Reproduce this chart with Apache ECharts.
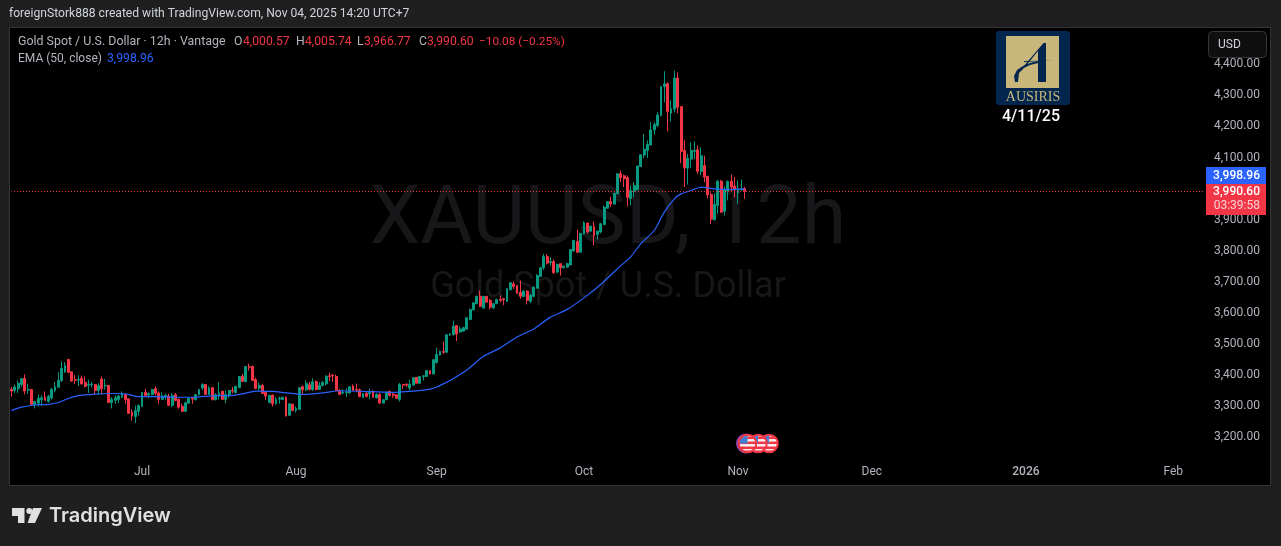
<!DOCTYPE html>
<html>
<head>
<meta charset="utf-8">
<style>html,body{margin:0;padding:0;background:#1f1f1f}#c{width:1281px;height:546px}</style>
<script src="https://cdn.jsdelivr.net/npm/echarts@6/dist/echarts.min.js"></script>
</head>
<body>
<div id="c"></div>
<script>
const opens = [
3353,3350,3355,3369,3388,3351,3353,3305,3309,3320,3328,3315,3326,3350,3360,3382,3409,3450,3410,3385,
3383,3389,3376,3367,3368,3369,3350,3387,3364,3366,3311,3318,3321,3328,3337,3323,3280,3266,3283,3298,
3344,3335,3336,3356,3342,3321,3330,3332,3302,3336,3321,3299,3283,3309,3326,3320,3336,3358,3369,3337,
3359,3320,3332,3347,3321,3334,3350,3343,3359,3395,3378,3427,3427,3385,3357,3366,3344,3311,3335,3307,
3322,3321,3328,3270,3306,3286,3289,3362,3352,3368,3353,3379,3353,3366,3371,3397,3399,3395,3349,3341,
3343,3342,3364,3353,3352,3327,3341,3339,3348,3326,3337,3309,3320,3347,3338,3336,3321,3369,3370,3358,
3367,3392,3373,3395,3395,3413,3403,3440,3464,3476,3473,3529,3530,3559,3538,3541,3547,3578,3609,3629,
3653,3615,3653,3640,3616,3629,3643,3645,3637,3674,3693,3688,3666,3653,3670,3637,3653,3679,3717,3745,
3781,3762,3765,3731,3758,3745,3747,3754,3799,3830,3795,3854,3889,3863,3878,3852,3860,3884,3937,3958,
3950,3983,4048,4041,4035,3968,3991,3996,4071,4108,4123,4140,4189,4203,4235,4329,4338,4243,4256,4356,
4264,4123,4066,4095,4120,4125,4055,4074,4039,3981,3900,3946,4024,3927,3992,4024,4008,3986,3997,4000.57];
const closes = [
3348,3361,3373,3388,3348,3353,3305,3314,3325,3326,3318,3330,3353,3362,3382,3421,3430,3408,3380,3383,
3385,3371,3363,3370,3370,3350,3365,3355,3366,3311,3321,3326,3332,3339,3321,3276,3268,3285,3301,3344,
3334,3340,3353,3341,3321,3332,3334,3302,3334,3318,3296,3283,3310,3325,3322,3336,3353,3369,3337,3358,
3320,3336,3342,3321,3337,3350,3348,3363,3395,3379,3427,3425,3382,3356,3366,3340,3332,3334,3307,3321,
3325,3328,3268,3307,3285,3292,3359,3352,3373,3353,3378,3353,3366,3376,3396,3395,3397,3349,3337,3344,
3345,3362,3350,3351,3330,3340,3330,3343,3328,3337,3309,3320,3345,3334,3334,3325,3369,3367,3367,3370,
3391,3373,3395,3397,3414,3403,3449,3466,3476,3473,3529,3532,3556,3532,3548,3552,3584,3611,3632,3653,
3621,3653,3634,3618,3629,3643,3640,3642,3678,3697,3685,3663,3653,3670,3640,3656,3683,3720,3745,3781,
3760,3765,3729,3756,3745,3750,3758,3804,3833,3795,3856,3890,3860,3879,3849,3863,3887,3940,3958,3950,
3985,4048,4035,4032,3972,3994,4009,4073,4109,4127,4142,4189,4206,4237,4329,4337,4248,4257,4356,4262,
4120,4066,4098,4123,4123,4056,4106,4037,3980,3901,3949,4024,3924,3996,4023,4005,3996,3996,3999,3990.6];
const lows = [
3330,3342,3342,3361,3337,3339,3305,3292,3298,3300,3318,3311,3320,3344,3360,3377,3407,3408,3378,3371,
3364,3369,3360,3342,3360,3337,3336,3337,3352,3311,3292,3307,3309,3326,3307,3276,3253,3245,3269,3298,
3328,3325,3334,3334,3307,3321,3320,3299,3296,3315,3291,3280,3280,3307,3307,3318,3334,3352,3337,3337,
3318,3318,3320,3320,3309,3326,3341,3341,3359,3377,3378,3414,3382,3354,3350,3339,3320,3309,3298,3305,
3307,3318,3266,3270,3285,3279,3289,3339,3348,3350,3348,3350,3352,3363,3366,3380,3377,3348,3336,3339,
3328,3340,3348,3344,3328,3327,3328,3322,3326,3324,3307,3309,3320,3330,3326,3323,3314,3355,3361,3350,
3367,3373,3373,3382,3393,3401,3403,3436,3462,3468,3471,3525,3527,3509,3536,3539,3547,3578,3609,3629,
3618,3615,3634,3611,3612,3629,3634,3624,3635,3674,3677,3663,3645,3650,3627,3631,3650,3679,3715,3738,
3756,3752,3726,3729,3720,3743,3745,3754,3799,3792,3795,3852,3856,3861,3817,3836,3856,3884,3935,3940,
3950,3983,4021,4005,3942,3946,3972,3996,4071,4098,4098,4140,4174,4198,4235,4278,4185,4216,4246,4243,
4082,4005,4013,4067,4096,4048,4044,4021,3969,3886,3897,3919,3922,3913,3962,3992,3972,3951,3992,3966.77];
const highs = [
3361,3369,3382,3388,3402,3371,3353,3314,3336,3334,3347,3336,3358,3377,3409,3443,3441,3450,3410,3400,
3399,3398,3395,3384,3377,3369,3373,3395,3387,3366,3328,3334,3334,3347,3339,3323,3289,3301,3305,3344,
3355,3344,3355,3363,3347,3344,3339,3339,3341,3342,3324,3307,3314,3326,3328,3339,3353,3373,3371,3364,
3359,3341,3376,3350,3350,3352,3361,3365,3395,3403,3427,3436,3430,3391,3376,3371,3348,3336,3336,3328,
3330,3330,3330,3307,3306,3298,3359,3366,3382,3377,3389,3382,3377,3380,3398,3407,3403,3401,3355,3354,
3358,3362,3369,3372,3356,3340,3344,3356,3350,3341,3341,3320,3345,3350,3345,3337,3374,3371,3373,3384,
3391,3392,3395,3398,3414,3414,3449,3487,3478,3508,3532,3535,3575,3559,3556,3555,3584,3613,3634,3655,
3672,3653,3655,3645,3632,3645,3656,3648,3678,3697,3701,3688,3704,3672,3672,3661,3683,3725,3747,3790,
3788,3779,3772,3758,3760,3752,3762,3804,3835,3868,3856,3895,3890,3881,3894,3865,3889,3945,3958,3974,
3985,4048,4058,4045,4042,4010,4021,4073,4109,4176,4155,4214,4214,4246,4329,4378,4341,4284,4380,4374,
4264,4157,4112,4149,4152,4139,4133,4106,4042,3988,3985,4028,4028,4007,4026,4045,4037,4026,4029,4005.74];

// EMA (50, close) at these bar numbers
const emaBars = [0,3,7,11,14,17,20,25,29,34,38,43,49,55,61,65,69,73,78,82,87,93,98,105,113,120,125,127,129,131,136,141,146,151,156,161,166,171,176,181,185,188,192,195,198,200,203,206,210,215,219];
const emaValues = [3285,3296,3303,3305,3311,3324,3333,3338,3340,3339,3330,3330,3328,3328,3333,3333,3339,3348,3347,3342,3337,3342,3349,3347,3344,3348,3354,3361,3371,3382,3416,3460,3487,3522,3548,3586,3611,3648,3691,3742,3781,3823,3865,3924,3967,3983,3994,4005,3999,3997,3998.96];

const priceTicks = [3200,3300,3400,3500,3600,3700,3800,3900,4000,4100,4200,4300,4400];
const monthNames = ['Jul','Aug','Sep','Oct','Nov','Dec','2026','Feb'];
const monthBars = [39,85,127,171,217,257,303,347];
const slotCount = 357;
const lastClose = 3990.6;

const slots = Array.from({length: slotCount}, (_, i) => {
  const k = monthBars.indexOf(i);
  return k >= 0 ? monthNames[k] : '';
});
const candles = opens.map((o, i) => [o, closes[i], lows[i], highs[i]]);
const ema = emaBars.map((b, i) => [b, emaValues[i]]);

const UI = 'Roboto, sans-serif';
const green = '#089981', red = '#f23645', blue = '#2962ff', gray = '#b2b5be';

function flag(x, y, z) {
  const svg = "<svg xmlns='http://www.w3.org/2000/svg' width='20' height='20'><defs><clipPath id='c'><circle cx='10' cy='10' r='8.6'/></clipPath></defs><g clip-path='url(#c)'><rect width='20' height='20' fill='#f7f7f7'/><rect y='3' width='20' height='2.6' fill='#f23645'/><rect y='8' width='20' height='2.6' fill='#f23645'/><rect y='13' width='20' height='2.6' fill='#f23645'/><rect y='17' width='20' height='3' fill='#f23645'/><rect width='10' height='10' fill='#3f7fd6'/></g><circle cx='10' cy='10' r='8.8' fill='none' stroke='#f23645' stroke-width='2'/></svg>";
  return {type: 'image', z, style: {image: 'data:image/svg+xml,' + encodeURIComponent(svg), x: x - 10, y: y - 10, width: 20, height: 20}};
}
function poly(points, fill, z) {
  return {type: 'polygon', z, shape: {points}, style: {fill}};
}
function txt(text, x, y, font, fill, extra) {
  return {type: 'text', z: 50, style: Object.assign({text, x, y, verticalAlign: 'middle', font, fill}, extra || {})};
}

const chart = echarts.init(document.getElementById('c'), null, {renderer: 'canvas'});
chart.setOption({
  animation: false,
  backgroundColor: '#1f1f1f',
  grid: {left: 9.8, right: 76, top: 28.5, height: 431, containLabel: false},
  xAxis: {
    type: 'category', data: slots, boundaryGap: true,
    axisLine: {show: false}, axisTick: {show: false}, splitLine: {show: false},
    axisLabel: {
      interval: i => monthBars.includes(i),
      color: gray, fontFamily: UI, fontSize: 12, margin: 6,
      formatter: v => v === '2026' ? '{y|2026}' : v,
      rich: {y: {color: gray, fontFamily: UI, fontSize: 12, fontWeight: 500}}
    }
  },
  yAxis: {
    type: 'value', position: 'right', min: 3127.5, max: 4515.6, scale: true,
    axisLine: {show: false}, axisTick: {show: false}, splitLine: {show: false},
    axisLabel: {
      customValues: priceTicks, color: gray, fontFamily: UI, fontSize: 12, margin: 9,
      formatter: v => v.toLocaleString('en-US', {minimumFractionDigits: 2, maximumFractionDigits: 2})
    }
  },
  series: [
    {
      type: 'candlestick', data: candles, barWidth: 2.4,
      itemStyle: {color: green, color0: red, borderColor: green, borderColor0: red, borderWidth: 1}
    },
    {
      type: 'line', data: ema, showSymbol: false, symbol: 'none', smooth: 0.2,
      lineStyle: {color: blue, width: 1.2}, z: 3
    },
    {
      type: 'line', data: [[0, lastClose], [slotCount - 1, lastClose]], showSymbol: false, symbol: 'none',
      lineStyle: {color: red, type: [1, 2], dashOffset: 0.474, width: 1}, z: 4, silent: true
    }
  ],
  graphic: [
    {type: 'rect', z: -10, shape: {x: 9.5, y: 27.5, width: 1261, height: 458}, style: {fill: '#000', stroke: '#343434', lineWidth: 1}},
    {type: 'text', z: -9, style: {text: 'XAUUSD, 12h', x: 608, y: 222.5, align: 'center', verticalAlign: 'middle', font: '81px ' + UI, fill: '#17171a'}},
    {type: 'text', z: -9, style: {text: 'Gold Spot / U.S. Dollar', x: 608, y: 288, align: 'center', verticalAlign: 'middle', font: '36px ' + UI, fill: '#17171a'}},

    txt('foreignStork888 created with TradingView.com, Nov 04, 2025 14:20 UTC+7', 9, 14, '12.12px ' + UI, '#d1d4dc'),
    txt('Gold Spot / U.S. Dollar · 12h · Vantage', 18, 42, '12.4px ' + UI, gray),
    txt('O', 234, 42, '12.2px ' + UI, gray), txt('4,000.57', 243, 42, '12.2px ' + UI, red),
    txt('H', 296, 42, '12.2px ' + UI, gray), txt('4,005.74', 305, 42, '12.2px ' + UI, red),
    txt('L', 357, 42, '12.2px ' + UI, gray), txt('3,966.77', 364, 42, '12.2px ' + UI, red),
    txt('C', 419, 42, '12.2px ' + UI, gray), txt('3,990.60', 427, 42, '12.2px ' + UI, red),
    txt('−10.08 (−0.25%)', 479, 42, '11.8px ' + UI, red),
    txt('EMA (50, close)', 18, 59, '12px ' + UI, gray),
    txt('3,998.96', 107, 59, '12.2px ' + UI, blue),

    // logo
    {type: 'rect', z: 50, shape: {x: 996, y: 31, width: 74, height: 74, r: 3}, style: {fill: '#03264f'}},
    {type: 'rect', z: 51, shape: {x: 1006, y: 36, width: 53, height: 52}, style: {fill: '#c8b67b'}},
    poly([[1038,82],[1046,82],[1046,43],[1043.5,43],[1023,67],[1025,67],[1038,51]], '#03264f', 52),
    poly([[1015,82],[1014,76],[1017,70],[1023,66],[1030,63],[1038,61],[1038,63],[1030,65],[1024,68],[1019,73],[1018,82]], '#03264f', 52),
    poly([[1024,61],[1053,60.5],[1024,62]], '#03264f', 52),
    {type: 'text', z: 52, style: {text: 'AUSIRIS', x: 1033, y: 97, align: 'center', verticalAlign: 'middle', font: '14px "Liberation Serif", serif', fill: '#c8b67b'}},
    txt('4/11/25', 1031, 117, '500 16px ' + UI, '#fff', {align: 'center'}),

    // currency button
    {type: 'rect', z: 50, shape: {x: 1208.5, y: 31.5, width: 58, height: 26, r: 4}, style: {fill: '#0f0f0f', stroke: '#363636', lineWidth: 1}},
    {type: 'text', z: 51, style: {text: 'USD', x: 1218, y: 44.5, verticalAlign: 'middle', font: '12px ' + UI, fill: '#d1d4dc'}},

    // price tags
    {type: 'rect', z: 50, shape: {x: 1206, y: 167, width: 60, height: 17}, style: {fill: blue}},
    {type: 'text', z: 51, style: {text: '3,998.96', x: 1260, y: 175.5, align: 'right', verticalAlign: 'middle', font: '500 12px ' + UI, fill: '#fff'}},
    {type: 'rect', z: 50, shape: {x: 1206, y: 184, width: 60, height: 31}, style: {fill: red}},
    {type: 'text', z: 51, style: {text: '3,990.60', x: 1260, y: 192, align: 'right', verticalAlign: 'middle', font: '500 12px ' + UI, fill: '#fff'}},
    {type: 'text', z: 51, style: {text: '03:39:58', x: 1260, y: 206, align: 'right', verticalAlign: 'middle', font: '12px ' + UI, fill: '#fbd0d4'}},

    // event flags
    {type: 'circle', z: 20, shape: {cx: 746, cy: 443.5, r: 10}, style: {fill: '#8e44ad'}},
    flag(769, 443.5, 21), flag(758, 443.5, 22), flag(747.5, 443.5, 23),

    // TradingView brand
    poly([[12,508],[24.5,508],[24.5,523],[18,523],[18,516],[12,516]], '#e0e0e0', 50),
    poly([[33,508],[42,508],[35,523],[27.5,523]], '#e0e0e0', 50),
    {type: 'circle', z: 50, shape: {cx: 29.3, cy: 511, r: 3}, style: {fill: '#e0e0e0'}},
    txt('TradingView', 49, 516, '600 20px Inter, sans-serif', '#e0e0e0')
  ]
});
</script>
</body>
</html>
